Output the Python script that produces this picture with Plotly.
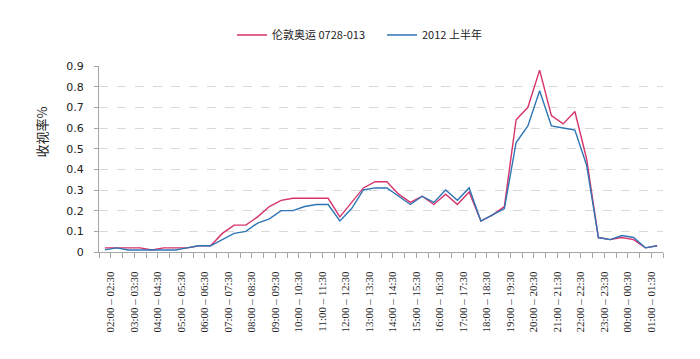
import plotly.graph_objects as go

# 48 half-hour slots starting 02:00
slots = [f"{(2 + i // 2) % 24:02d}:{'00' if i % 2 == 0 else '30'}" for i in range(48)]

hour_labels = [
    "02:00 – 02:30", "03:00 – 03:30", "04:00 – 04:30", "05:00 – 05:30",
    "06:00 – 06:30", "07:00 – 07:30", "08:00 – 08:30", "09:00 – 09:30",
    "10:00 – 10:30", "11:00 – 11:30", "12:00 – 12:30", "13:00 – 13:30",
    "14:00 – 14:30", "15:00 – 15:30", "16:00 – 16:30", "17:00 – 17:30",
    "18:00 – 18:30", "19:00 – 19:30", "20:00 – 20:30", "21:00 – 21:30",
    "22:00 – 22:30", "23:00 – 23:30", "00:00 – 00:30", "01:00 – 01:30",
]

london_name = "伦敦奥运 0728-013"
london = [0.02, 0.02, 0.02, 0.02, 0.01, 0.02, 0.02, 0.02, 0.03, 0.03,
          0.09, 0.13, 0.13, 0.17, 0.22, 0.25, 0.26, 0.26, 0.26, 0.26,
          0.17, 0.24, 0.31, 0.34, 0.34, 0.28, 0.24, 0.27, 0.23, 0.28,
          0.23, 0.29, 0.15, 0.18, 0.22, 0.64, 0.70, 0.88, 0.66, 0.62,
          0.68, 0.45, 0.07, 0.06, 0.07, 0.06, 0.02, 0.03]

h1_name = "2012 上半年"
h1_2012 = [0.01, 0.02, 0.01, 0.01, 0.01, 0.01, 0.01, 0.02, 0.03, 0.03,
           0.06, 0.09, 0.10, 0.14, 0.16, 0.20, 0.20, 0.22, 0.23, 0.23,
           0.15, 0.21, 0.30, 0.31, 0.31, 0.27, 0.23, 0.27, 0.24, 0.30,
           0.25, 0.31, 0.15, 0.18, 0.21, 0.53, 0.61, 0.78, 0.61, 0.60,
           0.59, 0.42, 0.07, 0.06, 0.08, 0.07, 0.02, 0.03]

y_ticks = [0, 0.1, 0.2, 0.3, 0.4, 0.5, 0.6, 0.7, 0.8, 0.9]
y_title = "收视率%"

xpos = [i + 0.5 for i in range(len(slots))]

fig = go.Figure()
fig.add_trace(go.Scatter(x=xpos, y=london, name=london_name, mode="lines",
                         line=dict(color="#D6336B", width=1.4),
                         customdata=slots))
fig.add_trace(go.Scatter(x=xpos, y=h1_2012, name=h1_name, mode="lines",
                         line=dict(color="#2E75B6", width=1.4),
                         customdata=slots))

tickvals = list(range(len(slots) + 1))
ticktext = [hour_labels[(k - 1) // 2] if k % 2 == 1 else "" for k in tickvals]

# the page body has an 8px margin, so the figure is sized 692x351
W, H = 692, 351
fig.update_layout(
    width=W, height=H,
    margin=dict(l=91, r=37, t=58, b=107, autoexpand=False),
    paper_bgcolor="white", plot_bgcolor="white",
    font=dict(family="DejaVu Sans", size=11, color="#222"),
    showlegend=True,
    legend=dict(orientation="h", xref="container", yref="container",
                x=224 / W, xanchor="left", y=1 - 27 / H, yanchor="middle",
                font=dict(family="Noto Sans CJK SC", size=11, color="#222"),
                entrywidth=105, entrywidthmode="pixels",
                itemwidth=30, bgcolor="rgba(0,0,0,0)", traceorder="normal"),
    xaxis=dict(range=[0, 48], tickmode="array", tickvals=tickvals, ticktext=ticktext,
               tickangle=-90, showgrid=False, zeroline=False, automargin=False,
               showline=True, linecolor="#A6A6A6", linewidth=1,
               ticks="outside", ticklen=5, tickcolor="#A6A6A6",
               ticklabelstandoff=9,
               tickfont=dict(family="Liberation Serif", size=11, color="#222")),
    yaxis=dict(range=[0, 0.9], tickmode="array", tickvals=y_ticks,
               ticktext=["0" if v == 0 else f"{v:.1f}" for v in y_ticks],
               showgrid=True, gridcolor="#D9D9D9", griddash="dash", gridwidth=1,
               zeroline=False, showline=True, linecolor="#A6A6A6", linewidth=1,
               ticks="outside", ticklen=4, tickcolor="#A6A6A6", automargin=False,
               ticklabelstandoff=8,
               tickfont=dict(family="DejaVu Sans", size=11, color="#222")),
    annotations=[dict(text=y_title, xref="paper", yref="paper",
                      x=-57 / 556, y=(251.7 - 132) / 186, xanchor="center", yanchor="middle",
                      textangle=-90, showarrow=False,
                      font=dict(family="Noto Sans CJK SC", size=13, color="#222"))],
)

fig.write_html("out.html")
